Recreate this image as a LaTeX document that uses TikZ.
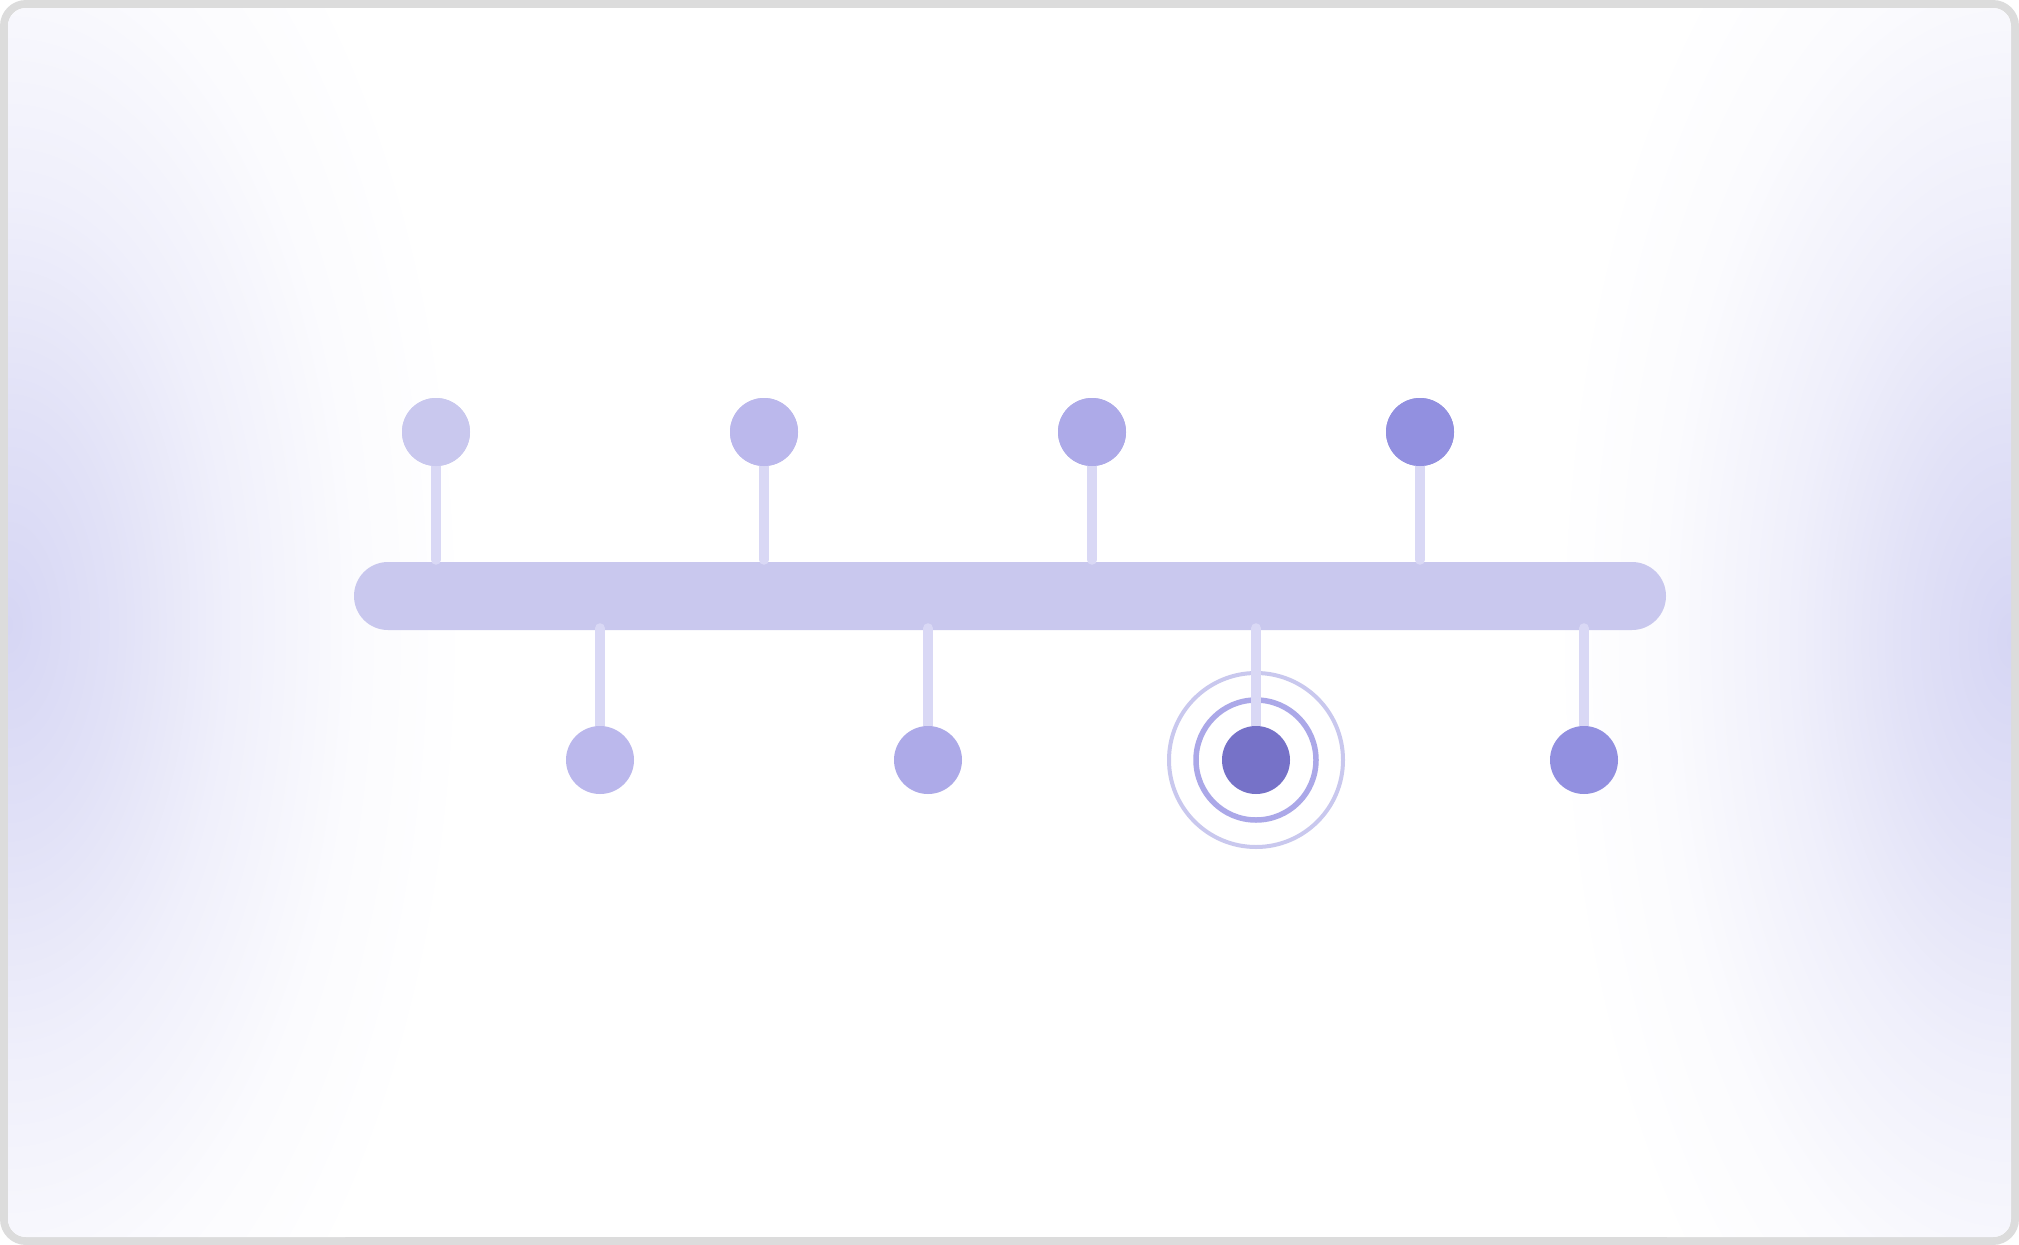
\documentclass[tikz,border=0pt]{standalone}
\usetikzlibrary{calc}
\definecolor{framegray}{HTML}{DCDCDC}
\definecolor{barcol}{HTML}{C9C8EE}
\definecolor{stemcol}{HTML}{D9D8F5}
\definecolor{cA}{HTML}{C9C8EE}
\definecolor{cB}{HTML}{BBB8EC}
\definecolor{cC}{HTML}{ADAAE8}
\definecolor{cD}{HTML}{9290E0}
\definecolor{cE}{HTML}{7672C8}
\definecolor{ringin}{HTML}{ABA8E8}
\definecolor{ringout}{HTML}{C9C8EE}
\definecolor{glow}{HTML}{D6D6F4}
\colorlet{glowA}{glow!72!white}
\colorlet{glowB}{glow!38!white}
\colorlet{glowC}{glow!10!white}
\pgfdeclareradialshading{glowshade}{\pgfpoint{0bp}{0bp}}{color(0bp)=(glow); color(6bp)=(glowA); color(12bp)=(glowB); color(19bp)=(glowC); color(25bp)=(white); color(50bp)=(white)}
\tikzset{
  dot/.style={circle, inner sep=0pt, minimum size=68pt, fill=#1},
  stemline/.style={line width=10pt, stemcol, line cap=round},
  ring/.style={circle, inner sep=0pt, draw=#1},
}
\begin{document}
\begin{tikzpicture}[x=1pt,y=-1pt]
\useasboundingbox (0,0) rectangle (2019,1245);
\fill[white] (0,0) rectangle (2019,1245);
\fill[framegray, rounded corners=26pt] (0,0) rectangle (2019,1245);
\begin{scope}
\path[clip, rounded corners=18pt] (8,8) rectangle (2011,1237);
\fill[white] (8,8) rectangle (2011,1237);
\shade[shading=glowshade] (8,625) ellipse [x radius=460pt, y radius=900pt];
\shade[shading=glowshade] (2011,640) ellipse [x radius=460pt, y radius=900pt];
\end{scope}
% bar
\node[fill=barcol, rounded corners=34pt, minimum width=1312pt, minimum height=68pt, inner sep=0pt] (bar) at (1010,596) {};
% circles
\node[dot=cA] (t1) at (436,432) {};
\node[dot=cB] (t2) at (764,432) {};
\node[dot=cC] (t3) at (1092,432) {};
\node[dot=cD] (t4) at (1420,432) {};
\node[ring=ringout, line width=4pt, minimum size=174pt] (r2) at (1256,760) {};
\node[ring=ringin, line width=5.5pt, minimum size=120pt] (r1) at (1256,760) {};
\foreach \n in {t1,t2,t3,t4}{
  \draw[stemline] (\n.center) -- ([yshift=2pt]\n.center |- bar.north);
}
\foreach \n/\xx in {b1/600,b2/928,b3/1256,b4/1584}{
  \coordinate (\n c) at (\xx,760);
  \draw[stemline] ([yshift=2pt]\n c |- bar.south) -- (\n c);
}
\node[dot=cA] at (t1) {};
\node[dot=cB] at (t2) {};
\node[dot=cC] at (t3) {};
\node[dot=cD] at (t4) {};
\node[dot=cB] (b1) at (b1c) {};
\node[dot=cC] (b2) at (b2c) {};
\node[dot=cE] (b3) at (b3c) {};
\node[dot=cD] (b4) at (b4c) {};
\end{tikzpicture}
\end{document}
